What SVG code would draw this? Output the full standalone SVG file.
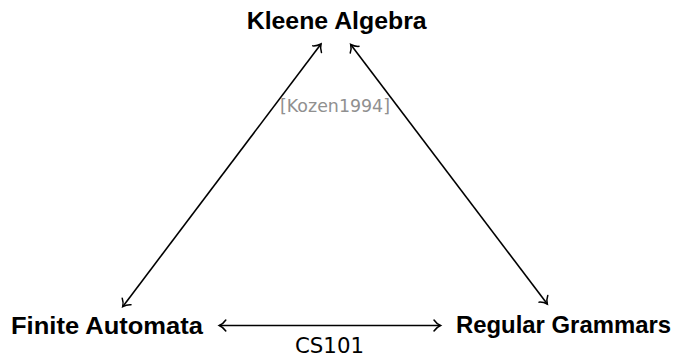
<svg xmlns="http://www.w3.org/2000/svg" width="678" height="357" viewBox="0 0 678 357">
<defs>
<style>
.node{font-family:"Liberation Sans","DejaVu Sans",sans-serif;font-weight:bold;font-size:24.5px;fill:#000}
.lbl{font-family:"DejaVu Sans","Liberation Sans",sans-serif;fill:#000}
.edge{stroke:#000;stroke-width:1.6;fill:none}
</style>
<marker id="tip" viewBox="-8 -7 10 14" markerWidth="10" markerHeight="14" refX="0" refY="0" orient="auto-start-reverse" markerUnits="userSpaceOnUse">
<path d="M -6.5,-5.5 C -4.5,-2.5 -1.8,-0.8 0,0 C -1.8,0.8 -4.5,2.5 -6.5,5.5" fill="none" stroke="#000" stroke-width="1.5" stroke-linecap="round"/>
</marker>
</defs>
<rect width="678" height="357" fill="#fff"/>
<g id="connectors">
<line class="edge" x1="122.7" y1="306.7" x2="321" y2="44" marker-start="url(#tip)" marker-end="url(#tip)"/>
<line class="edge" x1="350.7" y1="44.5" x2="547.3" y2="304" marker-start="url(#tip)" marker-end="url(#tip)"/>
<line class="edge" x1="219.3" y1="325.5" x2="440.5" y2="325.5" marker-start="url(#tip)" marker-end="url(#tip)"/>
<text class="lbl" x="280" y="112" font-size="18.5" style="fill:#909090" textLength="110" lengthAdjust="spacingAndGlyphs">[Kozen1994]</text>
<text class="lbl" x="295" y="352.5" font-size="22" textLength="69" lengthAdjust="spacingAndGlyphs">CS101</text>
</g>
<g id="kleene">
<text class="node" x="246.7" y="29" textLength="180" lengthAdjust="spacingAndGlyphs">Kleene Algebra</text>
</g>
<g id="automata">
<text class="node" x="11" y="334" textLength="192" lengthAdjust="spacingAndGlyphs">Finite Automata</text>
</g>
<g id="grammars">
<text class="node" x="456" y="332.5" textLength="215" lengthAdjust="spacingAndGlyphs">Regular Grammars</text>
</g>
</svg>
